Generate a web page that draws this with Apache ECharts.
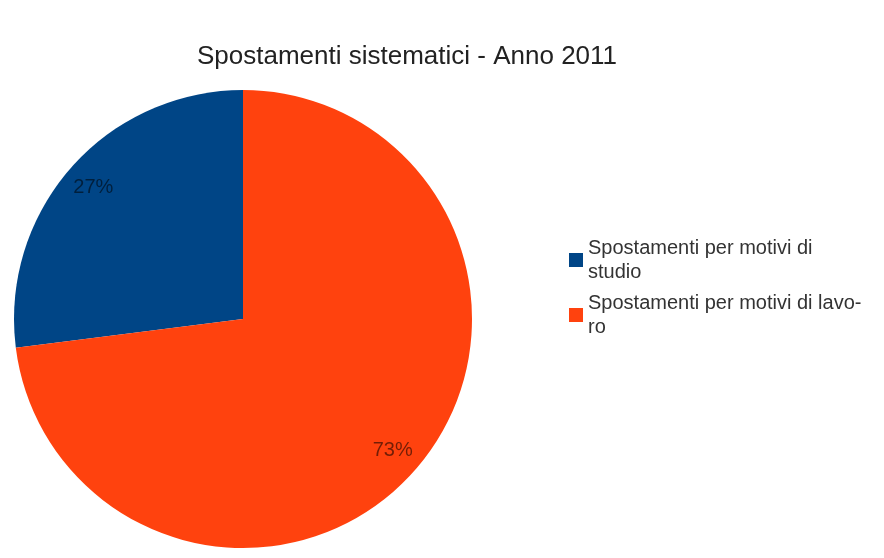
<!DOCTYPE html>
<html>
<head>
<meta charset="utf-8">
<script src="https://cdn.jsdelivr.net/npm/echarts@6/dist/echarts.min.js"></script>
<style>
  html, body { margin: 0; padding: 0; background: #ffffff; }
  #chart { width: 884px; height: 558px; }
</style>
</head>
<body>
<div id="chart"></div>
<script>
// Categories and shares (percent)
const categories = ['Spostamenti per motivi di studio', 'Spostamenti per motivi di lavoro'];
const legendText = ['Spostamenti per motivi di\nstudio', 'Spostamenti per motivi di lavo-\nro'];
const values = [27, 73];
const colors = ['#004586', '#ff420e'];

const FONT = '"Liberation Sans", Arial, sans-serif';

const pieData = categories.map((name, i) => ({
  name: name,
  value: values[i],
  itemStyle: { color: colors[i] }
}));

const chart = echarts.init(document.getElementById('chart'));
chart.setOption({
  backgroundColor: '#ffffff',
  animation: false,
  title: {
    text: 'Spostamenti sistematici - Anno 2011',
    left: 192,
    top: 39,
    textStyle: { fontFamily: FONT, fontSize: 26, fontWeight: 'normal', color: '#222222' }
  },
  legend: {
    orient: 'vertical',
    left: 564,
    top: 219,
    icon: 'rect',
    itemWidth: 14,
    itemHeight: 14,
    itemGap: -17,
    selectedMode: false,
    data: categories,
    formatter: name => legendText[categories.indexOf(name)],
    textStyle: {
      fontFamily: FONT,
      fontSize: 20,
      lineHeight: 24,
      color: '#333333',
      padding: [24, 0, 0, 0]
    }
  },
  series: [
    {
      // the slices
      type: 'pie',
      center: [243, 319],
      radius: [0, 229],
      startAngle: 90,
      clockwise: false,
      silent: true,
      label: { show: false },
      labelLine: { show: false },
      data: pieData
    },
    {
      // percentage labels placed near the rim
      type: 'pie',
      center: [243, 319],
      radius: [164, 229],
      startAngle: 90,
      clockwise: false,
      silent: true,
      itemStyle: { color: 'rgba(0,0,0,0)' },
      labelLine: { show: false },
      label: {
        show: true,
        position: 'inside',
        formatter: p => p.value + '%',
        fontFamily: FONT,
        fontSize: 20,
        color: 'rgba(0,0,0,0.55)'
      },
      data: categories.map((name, i) => ({ name: name, value: values[i] }))
    }
  ]
});
</script>
</body>
</html>
